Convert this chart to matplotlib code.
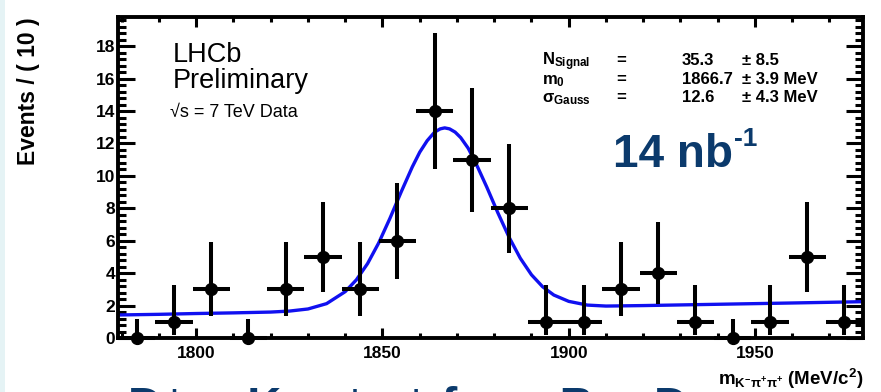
import numpy as np
import matplotlib
matplotlib.use("Agg")
import matplotlib.pyplot as plt
from matplotlib.ticker import MultipleLocator
from matplotlib.patches import Rectangle

plt.rcParams['font.family'] = ['Liberation Sans', 'DejaVu Sans']
plt.rcParams['mathtext.fontset'] = 'custom'
plt.rcParams['mathtext.rm'] = 'Liberation Sans:bold'
plt.rcParams['mathtext.bf'] = 'Liberation Sans:bold'
plt.rcParams['mathtext.it'] = 'Liberation Sans:bold'

# binned data, 10 MeV bins
bin_centers = [1784, 1794, 1804, 1814, 1824, 1834, 1844, 1854, 1864, 1874,
               1884, 1894, 1904, 1914, 1924, 1934, 1944, 1954, 1964, 1974]
counts = [0, 1, 3, 0, 3, 5, 3, 6, 14, 11, 8, 1, 1, 3, 4, 1, 0, 1, 5, 1]
err_low = [0, 0.83, 1.63, 0, 1.63, 2.16, 1.63, 2.38, 3.60, 3.22,
           2.75, 0.83, 0.83, 1.63, 1.91, 0.83, 0, 0.83, 2.16, 0.83]
err_high = [1.15, 2.30, 2.92, 1.15, 2.92, 3.38, 2.92, 3.58, 4.83, 4.42,
            3.94, 2.30, 2.30, 2.92, 3.16, 2.30, 1.15, 2.30, 3.38, 2.30]
bin_half = 5

# fit curve
fit_x = [1779, 1790, 1800, 1810, 1820, 1825, 1830, 1835, 1840, 1843, 1846,
         1849, 1852, 1855, 1858, 1860, 1862, 1864, 1865.5, 1866.7, 1868, 1869.5,
         1871, 1873, 1875, 1878, 1881, 1884, 1887, 1890, 1893, 1896, 1900,
         1905, 1910, 1920, 1940, 1960, 1979]
fit_y = [1.42, 1.46, 1.51, 1.55, 1.60, 1.66, 1.79, 2.12, 2.86, 3.59, 4.59,
         5.87, 7.38, 9.00, 10.55, 11.46, 12.17, 12.70, 12.90, 12.96, 12.90, 12.70,
         12.36, 11.71, 10.82, 9.31, 7.71, 6.21, 4.92, 3.90, 3.16, 2.65, 2.26,
         2.03, 1.97, 2.00, 2.08, 2.16, 2.24]

navy = '#0b3a6c'

fig = plt.figure(figsize=(8.81, 3.92), dpi=100)
fig.patches.append(Rectangle((0, 0), 5 / 881, 1, transform=fig.transFigure,
                             facecolor='#e5f3f5', edgecolor='none', zorder=-1))
ax = fig.add_axes([118 / 881, 54 / 392, 745 / 881, 321 / 392])

ax.plot(fit_x, fit_y, color='#1010f0', lw=2.4, zorder=2)
for i in range(len(counts)):
    clip = counts[i] > 0
    ax.errorbar(bin_centers[i], counts[i], xerr=bin_half,
                yerr=[[err_low[i]], [err_high[i]]], fmt='o', color='black',
                ms=8.5, elinewidth=2.9, capsize=0, zorder=3, clip_on=clip)

ax.set_xlim(1779, 1979)
ax.set_ylim(0, 19.8)

for s in ax.spines.values():
    s.set_linewidth(2.8)
ax.xaxis.set_major_locator(MultipleLocator(50))
ax.xaxis.set_minor_locator(MultipleLocator(10))
ax.yaxis.set_major_locator(MultipleLocator(2))
ax.yaxis.set_minor_locator(MultipleLocator(0.4))
ax.tick_params(which='both', direction='in', top=True, right=True, width=2.2)
ax.tick_params(axis='x', which='major', length=7, pad=6)
ax.tick_params(axis='x', which='minor', length=3.5)
ax.tick_params(axis='y', which='major', length=12, pad=2)
ax.tick_params(axis='y', which='minor', length=6)
for lab in ax.get_xticklabels() + ax.get_yticklabels():
    lab.set_fontweight('bold')
    lab.set_fontsize(12.5)

fig.text(29 / 881, 1 - 17 / 392, 'Events / ( 10 )', rotation=90, ha='center',
         va='top', fontsize=16.5, fontweight='bold')
fig.text(863 / 881, 1 - 385 / 392, r'$\mathregular{m_{K^{-}\pi^{+}\pi^{+}}}$ (MeV/c$^\mathregular{2}$)',
         ha='right', va='baseline', fontsize=13.5, fontweight='bold')

fig.text(173 / 881, 1 - 62 / 392, 'LHCb', fontsize=19.5, va='baseline')
fig.text(173 / 881, 1 - 88 / 392, 'Preliminary', fontsize=19.5, va='baseline')
fig.text(170 / 881, 1 - 117 / 392, '√s = 7 TeV Data', fontsize=13, va='baseline')

rows = [(r'$\mathregular{N_{Signal}}$', '35.3', '± 8.5', 65),
        (r'$\mathregular{m_{0}}$', '1866.7', '± 3.9 MeV', 84),
        (r'$\mathregular{σ_{Gauss}}$', '12.6', '± 4.3 MeV', 102)]
for name, val, err, yb in rows:
    fig.text(542 / 881, 1 - yb / 392, name, fontsize=12, fontweight='bold', va='baseline')
    fig.text(616 / 881, 1 - yb / 392, '=', fontsize=12, fontweight='bold', va='baseline')
    fig.text(682 / 881, 1 - yb / 392, val, fontsize=12, fontweight='bold', va='baseline')
    fig.text(742 / 881, 1 - yb / 392, err, fontsize=12, fontweight='bold', va='baseline')

fig.text(613 / 881, 1 - 167 / 392, '14 nb', fontsize=33,
         fontweight='bold', color=navy, va='baseline')
fig.text(734 / 881, 1 - 146 / 392, '-1', fontsize=19,
         fontweight='bold', color=navy, va='baseline')

fig.text(128 / 881, 1 - 420 / 392, 'D⁺→ K⁻π⁺π⁺ from B→ D', fontsize=34,
         fontweight='bold', color=navy, va='baseline')

fig.savefig('out.png', dpi=100)
